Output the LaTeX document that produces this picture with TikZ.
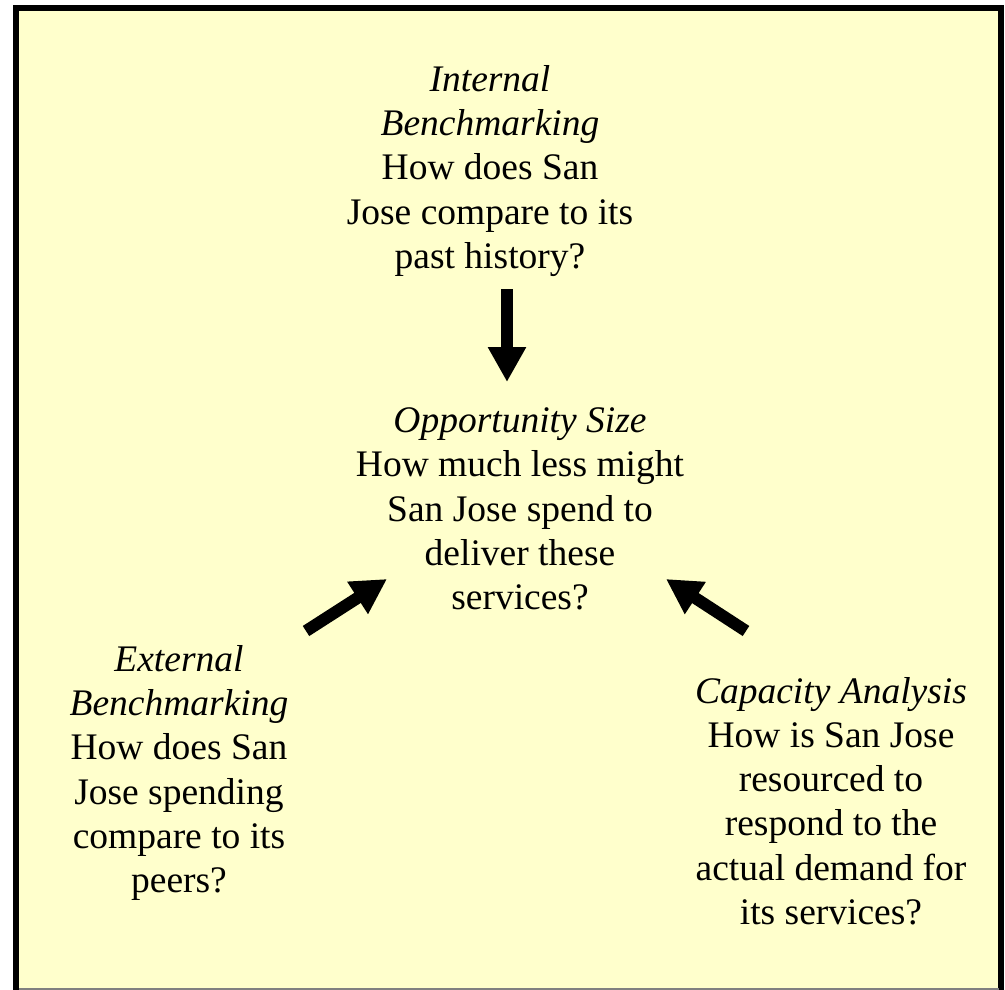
\documentclass[tikz,border=0pt]{standalone}
\usepackage{fontspec}
\setmainfont{Liberation Serif}
\usetikzlibrary{arrows.meta}

\definecolor{paleyellow}{RGB}{255,255,204}

\begin{document}
\begin{tikzpicture}[x=1pt, y=-1pt,
        question/.style={align=center, inner sep=0pt, font=\fontsize{37.5}{44.2}\selectfont},
        bigarrow/.style={line width=12pt, -{Triangle[length=35pt, width=36pt]}}]
        \useasboundingbox (0,0) rectangle (1005,990);

        % Background and frame
        \fill[paleyellow] (16,8) rectangle (1001,989);
        \draw[line width=6pt] (16,995) -- (16,8) -- (1001,8) -- (1001,995);
        \draw[gray, line width=2pt] (19,989) -- (999,989);

        % Question blocks
        \node[question] (internal) at (490,171) {\textit{Internal}\\\textit{Benchmarking}\\How does San\\Jose compare to its\\past history?};
        \node[question] (opportunity) at (520,509) {\textit{Opportunity Size}\\How much less might\\San Jose spend to\\deliver these\\services?};
        \node[question] (external) at (179,773) {\textit{External}\\\textit{Benchmarking}\\How does San\\Jose spending\\compare to its\\peers?};
        \node[question] (capacity) at (831,801) {\textit{Capacity Analysis}\\How is San Jose\\resourced to\\respond to the\\actual demand for\\its services?};

        % Arrow ends
        \coordinate (internal out) at (507,289);
        \coordinate (top in) at (507,382);
        \coordinate (external out) at (306,631);
        \coordinate (left in) at (387,579);
        \coordinate (capacity out) at (746,631);
        \coordinate (right in) at (666,579);

        % Arrows
        \draw[bigarrow] (internal out) -- (top in);
        \draw[bigarrow] (external out) -- (left in);
        \draw[bigarrow] (capacity out) -- (right in);

    \end{tikzpicture}
\end{document}
